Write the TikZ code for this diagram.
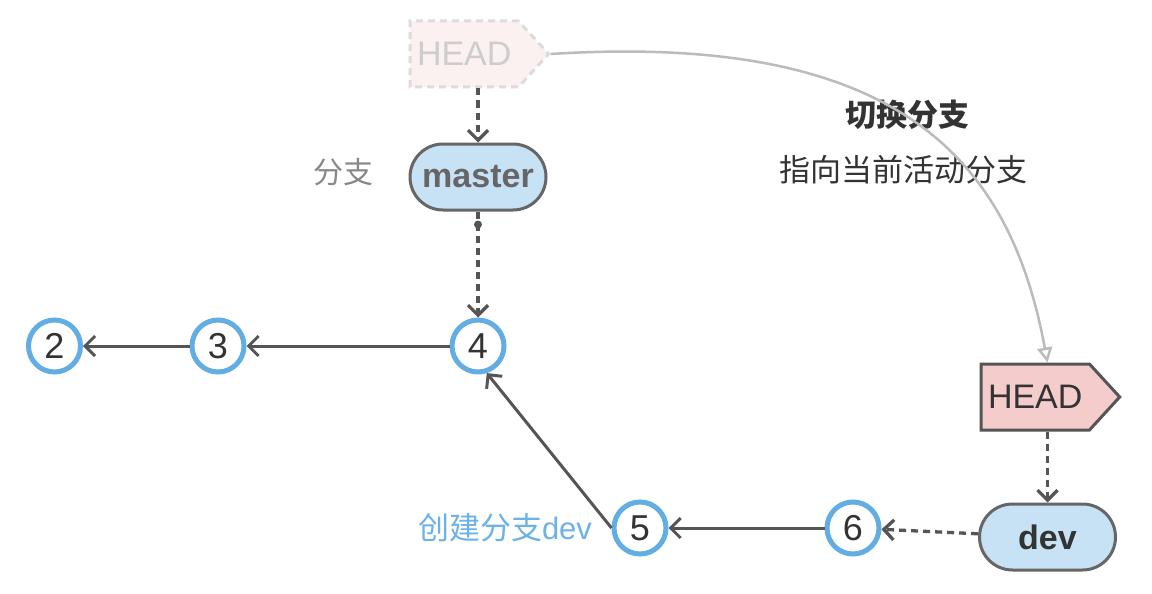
\documentclass[tikz,border=0pt]{standalone}
\usepackage{fontspec}
\setmainfont{Liberation Sans}
\newfontfamily\cjk{Noto Sans CJK SC}
\usetikzlibrary{arrows.meta,shapes.symbols}

\definecolor{cblue}{HTML}{62ADE4}
\definecolor{lblue}{HTML}{C7E1F5}
\definecolor{lred}{HTML}{F4CCCC}
\definecolor{ghostfill}{HTML}{FBF1F0}
\definecolor{ghostline}{HTML}{DCDCDC}
\definecolor{ghosttext}{HTML}{CDCDCD}
\definecolor{ink}{HTML}{333333}
\definecolor{edgecol}{HTML}{555555}
\definecolor{boxline}{HTML}{666666}
\definecolor{curvecol}{HTML}{BBBBBB}
\definecolor{lblblue}{HTML}{6CB2E8}
\definecolor{lblgray}{HTML}{888888}

\begin{document}
\begin{tikzpicture}[x=1pt,y=-1pt,
  commit/.style={circle,draw=cblue,line width=5pt,fill=white,minimum size=52pt,
    inner sep=0pt,text=ink,font=\fontsize{36}{36}\selectfont},
  branchbox/.style={rectangle,rounded corners=33pt,draw=boxline,line width=3pt,
    fill=lblue,minimum width=136pt,minimum height=66pt,inner sep=0pt,
    font=\bfseries\fontsize{34}{34}\selectfont},
  headsig/.style={signal,signal to=east,signal pointer angle=95,minimum height=66pt,
    inner xsep=7pt,inner ysep=0pt,line width=3pt,font=\fontsize{34}{34}\selectfont},
  edgeline/.style={draw=edgecol,line width=3pt,-{Straight Barb[length=10pt,width=20pt]}},
  dashline/.style={edgeline,line width=3.3pt,dash pattern=on 7pt off 5pt},
  curveline/.style={draw=curvecol,line width=2.5pt,-{Triangle[open,length=15pt,width=15pt,fill=white]}},
  cjklabel/.style={font=\cjk\fontsize{31}{31}\selectfont}
]
\fill[white] (0,0) rectangle (1152,594);
\useasboundingbox (0,0) rectangle (1152,594);

% commits
\node[commit] (c2) at (54.5,346) {2};
\node[commit] (c3) at (218,346) {3};
\node[commit] (c4) at (478,346) {4};
\node[commit] (c5) at (640,528) {5};
\node[commit] (c6) at (853,528) {6};

% branches
\node[branchbox,text=boxline] (master) at (478,177) {master};
\node[branchbox,text=ink] (dev) at (1047.5,537) {dev};

% HEAD pointers
\node[headsig,anchor=west,draw=ghostline,dashed,dash pattern=on 7pt off 5pt,
  fill=ghostfill,text=ghosttext] (headG) at (408.5,54) {HEAD};
\node[headsig,anchor=west,draw=edgecol,fill=lred,text=ink] (headR) at (979.5,397) {HEAD};

% labels
\node[cjklabel,text=lblgray,font=\cjk\fontsize{30}{30}\selectfont] (lblbranch) at (343,172) {分支};
\node[text=lblblue,font=\fontsize{31}{31}\selectfont] (lbldev) at (505,528) {{\cjk 创建分支}dev};
\node[cjklabel,text=ink,font=\cjk\bfseries\fontsize{31}{31}\selectfont] (ttl) at (907,115) {切换分支};
\node[cjklabel,text=ink] (sub) at (903,170) {指向当前活动分支};

% connectors
\draw[edgeline] (c3) -- (c2);
\draw[edgeline] (c4) -- (c3);
\draw[edgeline] (c5.west) -- (c4.-72);
\draw[edgeline] (c6) -- (c5);
\draw[dashline] (dev) -- (c6);
\draw[dashline] (headR.south -| dev.north) -- (dev.north);
\draw[dashline] (headG.south -| master.north) -- (master.north);
\draw[dashline] (master.south) -- (c4.north);
\fill[edgecol] ([yshift=-13pt]master.south) circle (4pt);
\draw[curveline] (headG.east) .. controls (900,32) and (1010,160) .. (headR.north -| dev.north);
\end{tikzpicture}
\end{document}
